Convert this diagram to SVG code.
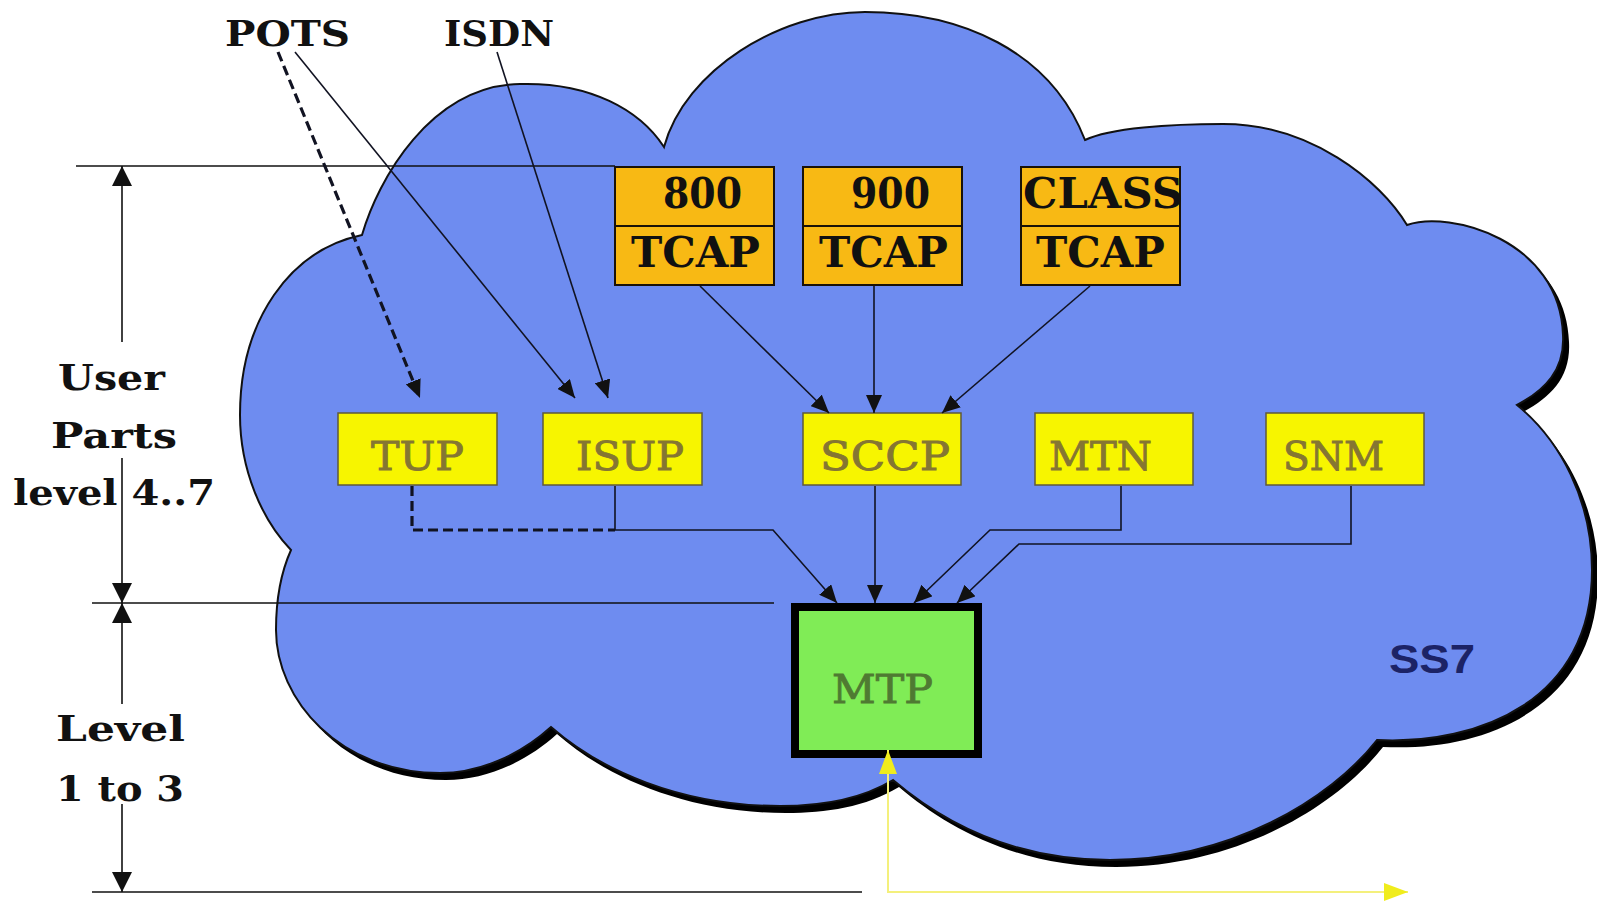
<svg xmlns="http://www.w3.org/2000/svg" width="1597" height="903" viewBox="0 0 1597 903">
<style>
.lbl{font-family:"DejaVu Serif","Liberation Serif",serif;font-weight:bold;fill:#111;}
.box{font-family:"DejaVu Serif","Liberation Serif",serif;font-weight:normal;fill:#857632;stroke:#857632;stroke-width:0.9;}
.ybox{fill:#f7f500;stroke:#5f5a3a;stroke-width:1.5;}
.obox{fill:#f8b914;stroke:#1a1208;stroke-width:2;}
.ln{fill:none;stroke:#111322;stroke-width:1.6;}
.dash{fill:none;stroke:#111322;stroke-width:3.2;stroke-dasharray:10,5;}
.dim{fill:none;stroke:#111;stroke-width:1.6;}
</style>
<defs>
<path id="cloud" d="M 362,235 C 378,180 430,86 520,84 C 590,82 640,110 664,147 C 685,70 780,12 865,12 C 960,12 1050,50 1085,140 C 1110,128 1170,124 1223,124 C 1310,124 1380,180 1407,225 C 1450,210 1560,240 1563,335 C 1565,370 1545,390 1517,405 C 1560,440 1592,500 1592,570 C 1592,700 1480,745 1377,740 C 1330,800 1230,860 1110,860 C 1010,860 940,820 893,780 C 860,800 820,806 780,806 C 680,806 600,770 551,727 C 520,755 480,773 440,773 C 340,773 276,700 276,630 C 276,595 282,570 291,550 C 262,520 240,470 240,415 C 240,320 290,250 362,235 Z"/>
<clipPath id="shclip"><rect x="0" y="250" width="1597" height="653"/></clipPath>
<marker id="ah" viewBox="0 0 18 16" refX="18" refY="8" markerWidth="18" markerHeight="16" orient="auto" markerUnits="userSpaceOnUse"><path d="M0,0 L18,8 L0,16 z" fill="#111"/></marker>
<marker id="dh" viewBox="0 0 20 20" refX="20" refY="10" markerWidth="20" markerHeight="20" orient="auto" markerUnits="userSpaceOnUse"><path d="M0,0 L20,10 L0,20 z" fill="#111"/></marker>
<marker id="yh" viewBox="0 0 24 18" refX="24" refY="9" markerWidth="24" markerHeight="18" orient="auto" markerUnits="userSpaceOnUse"><path d="M0,0 L24,9 L0,18 z" fill="#f0ec1c"/></marker>
</defs>
<rect width="1597" height="903" fill="#ffffff"/>

<g id="cloud-bg">
<g clip-path="url(#shclip)"><use href="#cloud" transform="translate(6,7)" fill="#000"/></g>
<use href="#cloud" fill="#6e8cf0" stroke="#111" stroke-width="2"/>
<text x="1389" y="673" font-family="Liberation Sans, Arial, sans-serif" font-weight="bold" font-size="40" textLength="86" lengthAdjust="spacingAndGlyphs" fill="#1c2366">SS7</text>
</g>

<g id="dimensions">
<line class="dim" x1="76" y1="166" x2="615" y2="166"/>
<line class="dim" x1="92" y1="603" x2="774" y2="603"/>
<line class="dim" x1="92" y1="892" x2="862" y2="892"/>
<line class="dim" x1="122" y1="342" x2="122" y2="166" marker-end="url(#dh)"/>
<line class="dim" x1="122" y1="458" x2="122" y2="603" marker-end="url(#dh)"/>
<line class="dim" x1="122" y1="704" x2="122" y2="603" marker-end="url(#dh)"/>
<line class="dim" x1="122" y1="804" x2="122" y2="892" marker-end="url(#dh)"/>
<text class="lbl" x="58" y="390" font-size="36" textLength="107" lengthAdjust="spacingAndGlyphs">User</text>
<text class="lbl" x="51" y="448" font-size="36" textLength="126" lengthAdjust="spacingAndGlyphs">Parts</text>
<text class="lbl" x="13" y="505" font-size="36" textLength="202" lengthAdjust="spacingAndGlyphs">level 4..7</text>
<text class="lbl" x="56" y="741" font-size="36" textLength="129" lengthAdjust="spacingAndGlyphs">Level</text>
<text class="lbl" x="56" y="801" font-size="36" textLength="128" lengthAdjust="spacingAndGlyphs">1 to 3</text>
</g>

<g id="n800">
<rect class="obox" x="615" y="167" width="159" height="118"/>
<line x1="615" y1="226" x2="774" y2="226" stroke="#1a1208" stroke-width="2"/>
<text class="lbl" x="663" y="208" font-size="42" textLength="79" lengthAdjust="spacingAndGlyphs">800</text>
<text class="lbl" x="631" y="267" font-size="42" textLength="129" lengthAdjust="spacingAndGlyphs">TCAP</text>
</g>
<g id="n900">
<rect class="obox" x="803" y="167" width="159" height="118"/>
<line x1="803" y1="226" x2="962" y2="226" stroke="#1a1208" stroke-width="2"/>
<text class="lbl" x="851" y="208" font-size="42" textLength="79" lengthAdjust="spacingAndGlyphs">900</text>
<text class="lbl" x="819" y="267" font-size="42" textLength="129" lengthAdjust="spacingAndGlyphs">TCAP</text>
</g>
<g id="nclass">
<rect class="obox" x="1021" y="167" width="159" height="118"/>
<line x1="1021" y1="226" x2="1180" y2="226" stroke="#1a1208" stroke-width="2"/>
<text class="lbl" x="1023" y="208" font-size="42" textLength="160" lengthAdjust="spacingAndGlyphs">CLASS</text>
<text class="lbl" x="1036" y="267" font-size="42" textLength="129" lengthAdjust="spacingAndGlyphs">TCAP</text>
</g>

<g id="ntup">
<rect class="ybox" x="338" y="413" width="159" height="72"/>
<text class="box" x="371" y="470" font-size="40" textLength="93" lengthAdjust="spacingAndGlyphs">TUP</text>
</g>
<g id="nisup">
<rect class="ybox" x="543" y="413" width="159" height="72"/>
<text class="box" x="576" y="470" font-size="40" textLength="108" lengthAdjust="spacingAndGlyphs">ISUP</text>
</g>
<g id="nsccp">
<rect class="ybox" x="803" y="413" width="158" height="72"/>
<text class="box" x="820" y="470" font-size="40" textLength="130" lengthAdjust="spacingAndGlyphs">SCCP</text>
</g>
<g id="nmtn">
<rect class="ybox" x="1035" y="413" width="158" height="72"/>
<text class="box" x="1049" y="470" font-size="40" textLength="103" lengthAdjust="spacingAndGlyphs">MTN</text>
</g>
<g id="nsnm">
<rect class="ybox" x="1266" y="413" width="158" height="72"/>
<text class="box" x="1283" y="470" font-size="40" textLength="101" lengthAdjust="spacingAndGlyphs">SNM</text>
</g>
<g id="nmtp">
<rect x="795" y="607" width="183" height="147" fill="#80ec56" stroke="#000" stroke-width="8"/>
<text class="box" x="832" y="703" font-size="40" textLength="101" lengthAdjust="spacingAndGlyphs" style="fill:#4f7a32;stroke:#4f7a32">MTP</text>
</g>

<g id="sources">
<text class="lbl" x="225" y="46" font-size="36" textLength="125" lengthAdjust="spacingAndGlyphs">POTS</text>
<text class="lbl" x="444" y="46" font-size="36" textLength="110" lengthAdjust="spacingAndGlyphs">ISDN</text>
</g>

<g id="connectors">
<line class="dash" x1="278" y1="52" x2="420" y2="398" marker-end="url(#ah)"/>
<line class="ln" x1="295" y1="52" x2="575" y2="398" marker-end="url(#ah)"/>
<line class="ln" x1="497" y1="52" x2="608" y2="398" marker-end="url(#ah)"/>
<line class="ln" x1="700" y1="286" x2="829" y2="413" marker-end="url(#ah)"/>
<line class="ln" x1="874" y1="286" x2="874" y2="413" marker-end="url(#ah)"/>
<line class="ln" x1="1090" y1="286" x2="942" y2="413" marker-end="url(#ah)"/>
<polyline class="dash" points="412,486 412,530 615,530"/>
<polyline class="ln" points="615,486 615,530 773,530 837,603" marker-end="url(#ah)"/>
<line class="ln" x1="875" y1="486" x2="875" y2="603" marker-end="url(#ah)"/>
<polyline class="ln" points="1121,486 1121,530 990,530 914,603" marker-end="url(#ah)"/>
<polyline class="ln" points="1351,486 1351,544 1019,544 957,603" marker-end="url(#ah)"/>
<polyline fill="none" stroke="#f4f07c" stroke-width="2" points="888,780 888,892 1408,892" marker-end="url(#yh)"/>
<line stroke="#f4f07c" stroke-width="2" x1="888" y1="800" x2="888" y2="750" marker-end="url(#yh)"/>
</g>
</svg>
